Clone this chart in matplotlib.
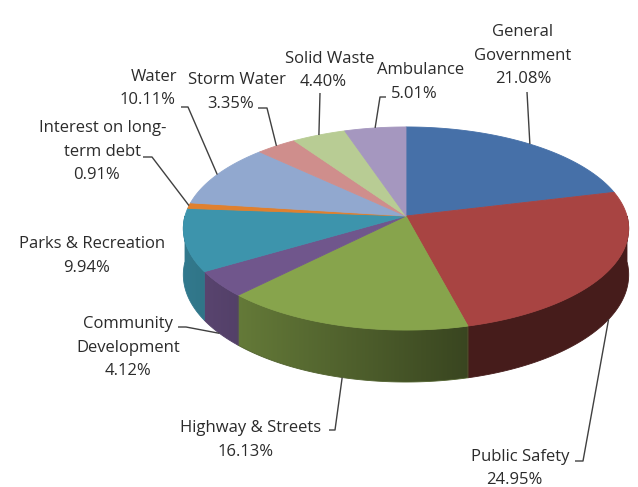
import numpy as np
import matplotlib.pyplot as plt
from matplotlib.patches import Polygon
from matplotlib.colors import to_rgb

# Expenditure shares by function (percent)
categories = ["General\nGovernment", "Public Safety", "Highway & Streets",
              "Community\nDevelopment", "Parks & Recreation",
              "Interest on long-\nterm debt", "Water", "Storm Water",
              "Solid Waste", "Ambulance"]
shares = [21.08, 24.95, 16.13, 4.12, 9.94, 0.91, 10.11, 3.35, 4.40, 5.01]
colors = ["#4670A8", "#A84442", "#87A44C", "#70568C", "#3D94AC",
          "#E0802E", "#91A8CF", "#CF8E8C", "#B8CC94", "#A597BF"]

# Label layout: centre x, first-line y, x shift of the percent line,
# and the short elbow of the leader line (None = no leader)
label_x = [523, 520, 251, 128, 92, 103, 154, 237, 330, 421]
label_y = [32, 457, 428, 324, 244, 128, 77, 80, 59, 70]
pct_dx = [0, -6, -5, 0, -5, -6, -6, -6, -7, -7]
elbows = [[(527, 92)], [(575, 461), (583, 461)], [(329, 430), (335, 430)],
          [(178, 327), (186, 327)], None, [(143, 157), (152, 157)],
          [(181, 107), (188, 107)], [(258, 108), (267, 108)],
          [(320, 93)], [(386, 97), (380, 97)]]

W, H = 638, 487
fig = plt.figure(figsize=(W / 100, H / 100), dpi=100)
ax = fig.add_axes([0, 0, 1, 1])
ax.axis("off")

# Tilted disc with perspective
cx, cy, rx, ry, k, depth = 406.0, 216.0, 221.0, 100.0, 0.123, 45.6


def proj(t):
    r = np.radians(t)
    u, v = np.cos(r), np.sin(r)
    w = 1.0 / (1.0 + k * v)
    return cx + rx * u * w, cy - ry * v * w, depth * w


def shade(x):
    return 0.82 - 0.40 * np.clip((x - 183) / (470 - 183), 0, 1)


total = sum(shares)
spans = [s / total * 360 for s in shares]
starts = 90 - np.concatenate([[0], np.cumsum(spans)[:-1]])
ends = starts - np.array(spans)

gx = np.linspace(170, 640, 400)

for t0, t1, col in zip(starts, ends, colors):
    # outer wall (front half only)
    a, b = min(t0, 0.0), max(t1, -180.0)
    if a > b:
        ts = np.linspace(a, b, max(4, int((a - b) * 2)))
        x, y, d = proj(ts)
        pts = np.vstack([np.column_stack([x, y]),
                         np.column_stack([x, y + d])[::-1]])
        clip = Polygon(pts, closed=True, transform=ax.transData)
        base = np.array(to_rgb(col))
        img = (shade(gx)[:, None] * base[None, :])[None, :, :]
        im = ax.imshow(img, extent=(170, 640, 420, 180), aspect="auto",
                       interpolation="bilinear", zorder=1)
        im.set_clip_path(clip)
        ax.add_patch(Polygon(pts, closed=True, facecolor="none",
                             edgecolor=tuple(base * shade(x.mean())),
                             lw=0.6, zorder=1.1))

for t0, t1, col in zip(starts, ends, colors):
    ts = np.linspace(t0, t1, max(4, int((t0 - t1) * 2)))
    x, y, _ = proj(ts)
    pts = np.vstack([[cx, cy], np.column_stack([x, y])])
    ax.add_patch(Polygon(pts, closed=True, facecolor=col, edgecolor=col,
                         lw=0.6, zorder=2))

txt_col = "#2b2b2b"
line_col = "#404040"
step = 23.5
for i, (name, val) in enumerate(zip(categories, shares)):
    lines = name.split("\n") + [f"{val:.2f}%"]
    for j, ln in enumerate(lines):
        dx = pct_dx[i] if j == len(lines) - 1 else 0
        ax.text(label_x[i] + dx, label_y[i] + j * step, ln, ha="center",
                va="center", fontsize=12, family="Open Sans",
                color=txt_col, zorder=5)
    if elbows[i] is not None:
        mid = (starts[i] + ends[i]) / 2
        px, py, d = proj(mid)
        if np.sin(np.radians(mid)) < 0:
            py = py + d
        pts = elbows[i] + [(px, py)]
        xs, ys = zip(*pts)
        ax.plot(xs, ys, color=line_col, lw=1.0, zorder=4,
                solid_capstyle="butt")

ax.set_xlim(0, W)
ax.set_ylim(H, 0)
fig.savefig("out.png", dpi=100, facecolor="white")
